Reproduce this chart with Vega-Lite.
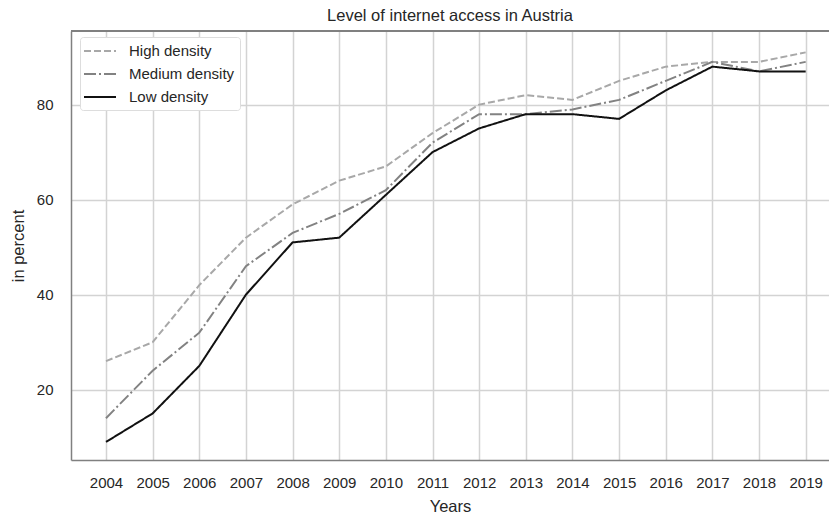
{
  "$schema": "https://vega.github.io/schema/vega-lite/v6.json",
  "autosize": {"type": "none"},
  "padding": {"left": 71, "top": 31, "right": 0, "bottom": 57},
  "width": 758,
  "height": 429,
  "background": "white",
  "config": {"view": {"stroke": null}, "font": "Liberation Sans"},
  "title": {"text": "Level of internet access in Austria", "fontSize": 16.5, "fontWeight": "normal", "color": "#262626", "anchor": "middle", "offset": 6, "font": "Liberation Sans"},
  "data": {"values": [
    {"year": 2004, "series": "High density", "value": 26},
    {"year": 2005, "series": "High density", "value": 30},
    {"year": 2006, "series": "High density", "value": 42},
    {"year": 2007, "series": "High density", "value": 52},
    {"year": 2008, "series": "High density", "value": 59},
    {"year": 2009, "series": "High density", "value": 64},
    {"year": 2010, "series": "High density", "value": 67},
    {"year": 2011, "series": "High density", "value": 74},
    {"year": 2012, "series": "High density", "value": 80},
    {"year": 2013, "series": "High density", "value": 82},
    {"year": 2014, "series": "High density", "value": 81},
    {"year": 2015, "series": "High density", "value": 85},
    {"year": 2016, "series": "High density", "value": 88},
    {"year": 2017, "series": "High density", "value": 89},
    {"year": 2018, "series": "High density", "value": 89},
    {"year": 2019, "series": "High density", "value": 91},
    {"year": 2004, "series": "Medium density", "value": 14},
    {"year": 2005, "series": "Medium density", "value": 24},
    {"year": 2006, "series": "Medium density", "value": 32},
    {"year": 2007, "series": "Medium density", "value": 46},
    {"year": 2008, "series": "Medium density", "value": 53},
    {"year": 2009, "series": "Medium density", "value": 57},
    {"year": 2010, "series": "Medium density", "value": 62},
    {"year": 2011, "series": "Medium density", "value": 72},
    {"year": 2012, "series": "Medium density", "value": 78},
    {"year": 2013, "series": "Medium density", "value": 78},
    {"year": 2014, "series": "Medium density", "value": 79},
    {"year": 2015, "series": "Medium density", "value": 81},
    {"year": 2016, "series": "Medium density", "value": 85},
    {"year": 2017, "series": "Medium density", "value": 89},
    {"year": 2018, "series": "Medium density", "value": 87},
    {"year": 2019, "series": "Medium density", "value": 89},
    {"year": 2004, "series": "Low density", "value": 9},
    {"year": 2005, "series": "Low density", "value": 15},
    {"year": 2006, "series": "Low density", "value": 25},
    {"year": 2007, "series": "Low density", "value": 40},
    {"year": 2008, "series": "Low density", "value": 51},
    {"year": 2009, "series": "Low density", "value": 52},
    {"year": 2010, "series": "Low density", "value": 61},
    {"year": 2011, "series": "Low density", "value": 70},
    {"year": 2012, "series": "Low density", "value": 75},
    {"year": 2013, "series": "Low density", "value": 78},
    {"year": 2014, "series": "Low density", "value": 78},
    {"year": 2015, "series": "Low density", "value": 77},
    {"year": 2016, "series": "Low density", "value": 83},
    {"year": 2017, "series": "Low density", "value": 88},
    {"year": 2018, "series": "Low density", "value": 87},
    {"year": 2019, "series": "Low density", "value": 87}
  ]},
  "layer": [
    {
      "mark": {"type": "line", "strokeWidth": 2},
      "encoding": {
        "x": {"field": "year", "type": "quantitative",
          "scale": {"domain": [2003.25, 2019.5], "nice": false, "zero": false},
          "axis": {"values": [2004,2005,2006,2007,2008,2009,2010,2011,2012,2013,2014,2015,2016,2017,2018,2019], "format": "d",
            "labelFontSize": 15, "labelColor": "#262626", "labelPadding": 15, "tickSize": 0,
            "domainColor": "#808080", "domainWidth": 1.5, "gridColor": "#d3d3d3", "gridWidth": 1.5,
            "title": "Years", "titleFontSize": 16.5, "titleFontWeight": "normal", "titleColor": "#262626", "titlePadding": 8}},
        "y": {"field": "value", "type": "quantitative",
          "scale": {"domain": [5.2, 95.5], "nice": false, "zero": false},
          "axis": {"values": [20, 40, 60, 80],
            "labelFontSize": 15, "labelColor": "#262626", "labelPadding": 18, "tickSize": 0,
            "domainColor": "#808080", "domainWidth": 1.5, "gridColor": "#d3d3d3", "gridWidth": 1.5,
            "title": "in percent", "titleFontSize": 16.5, "titleFontWeight": "normal", "titleColor": "#262626", "titlePadding": 10}},
        "color": {"field": "series", "type": "nominal",
          "scale": {"domain": ["High density", "Medium density", "Low density"], "range": ["#a8a8a8", "#828282", "#111111"]},
          "legend": {"title": null, "orient": "none", "legendX": 9, "legendY": 6, "symbolType": "M-2,0L2,0", "symbolSize": 256, "symbolStrokeWidth": 2, "symbolOffset": 6,
            "labelFontSize": 15, "labelColor": "#262626", "labelOffset": 20, "rowPadding": 6, "padding": 5,
            "strokeColor": "#dddddd", "fillColor": "white", "cornerRadius": 3}},
        "strokeDash": {"field": "series", "type": "nominal",
          "scale": {"domain": ["High density", "Medium density", "Low density"], "range": [[7, 3], [12, 3, 2, 3], [1, 0]]},
          "legend": {"title": null, "orient": "none", "legendX": 9, "legendY": 6, "symbolType": "M-2,0L2,0", "symbolSize": 256, "symbolStrokeWidth": 2, "symbolOffset": 6,
            "labelFontSize": 15, "labelColor": "#262626", "labelOffset": 20, "rowPadding": 6, "padding": 5,
            "strokeColor": "#dddddd", "fillColor": "white", "cornerRadius": 3}}
      }
    },
    {
      "mark": {"type": "rule", "color": "#808080", "strokeWidth": 1.5},
      "encoding": {"y": {"datum": 95.5}}
    }
  ]
}
